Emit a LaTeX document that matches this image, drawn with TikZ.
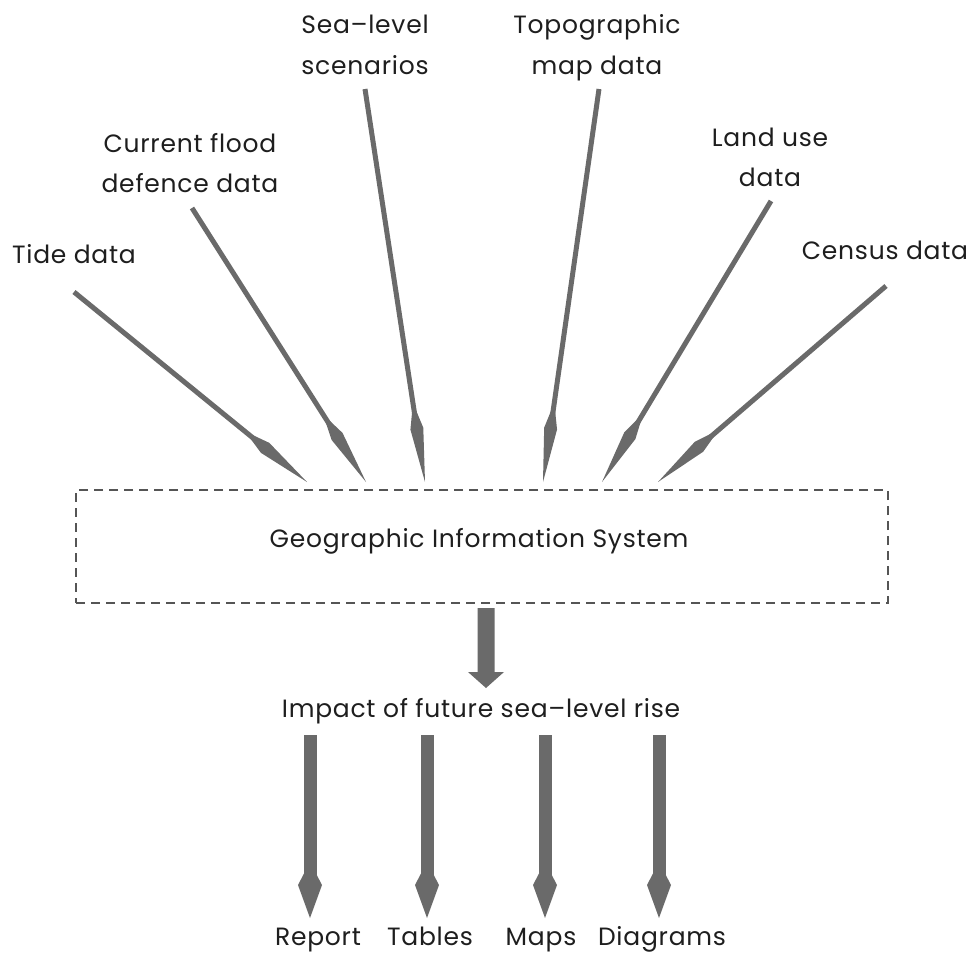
\documentclass[tikz,border=0pt]{standalone}
\usepackage{fontspec}
\setmainfont{Poppins}[LetterSpace=3]
\usetikzlibrary{calc}
\definecolor{spokegray}{HTML}{6A6A6A}
\definecolor{inkgray}{HTML}{1E1E1E}
\definecolor{boxgray}{HTML}{555555}
\newcommand\drawspoke[2]{%
  \draw[spoke] (#1) -- ($(#2)!53pt!(#1)$);
  \fill[spokegray] ($(#2)!80pt!(#1)$) -- ($($(#2)!54pt!(#1)$)!6.5pt!90:(#2)$) -- (#2)
     -- ($($(#2)!54pt!(#1)$)!6.5pt!-90:(#2)$) -- cycle;}
\newcommand\drawdown[2]{%
  \draw[shaft] (#1) -- ($(#2)+(0,-30)$);
  \fill[spokegray] ($(#2)+(0,-56)$) -- ($(#2)+(-12,-33)$) -- (#2) -- ($(#2)+(12,-33)$) -- cycle;}
\begin{document}
\begin{tikzpicture}[x=1pt,y=-1pt,
  lbl/.style={font=\fontsize{25}{40}\selectfont, text=inkgray, align=center, inner sep=0pt, anchor=base},
  spoke/.style={draw=spokegray, line width=5pt},
  shaft/.style={draw=spokegray, line width=13pt},
  gisbox/.style={draw=boxgray, line width=2pt, dash pattern=on 9pt off 6pt},
  bigarrow/.style={fill=spokegray}]
\useasboundingbox (0,0) rectangle (970,953);
% labels (anchor = baseline of last line)
\node[lbl] (sea) at (365,74) {Sea--level\\scenarios};
\node[lbl] (topo) at (597,74) {Topographic\\map data};
\node[lbl] (flood) at (190,192) {Current flood\\defence data};
\node[lbl] (land) at (770,186) {Land use\\data};
\node[lbl] (tide) at (74,263) {Tide data};
\node[lbl] (census) at (885,259) {Census data};
% GIS box
\node[gisbox, minimum width=812pt, minimum height=113pt, anchor=north west] (gis) at (75,489) {};
\node[lbl] (gistext) at (479,547) {Geographic Information System};
% spoke ends
\coordinate (s1) at (74,292);  \coordinate (e1) at (307,482);
\coordinate (s2) at (192,208); \coordinate (e2) at (366,482);
\coordinate (s3) at (365,89);  \coordinate (e3) at (425,482);
\coordinate (s4) at (599,89);  \coordinate (e4) at (543,482);
\coordinate (s5) at (771,201); \coordinate (e5) at (602,482);
\coordinate (s6) at (886,286); \coordinate (e6) at (658,482);
\drawspoke{s1}{e1}
\drawspoke{s2}{e2}
\drawspoke{s3}{e3}
\drawspoke{s4}{e4}
\drawspoke{s5}{e5}
\drawspoke{s6}{e6}
% big arrow
\coordinate (b1) at (486,608);
\coordinate (b2) at (486,688);
\fill[bigarrow] ($(b1)+(-8.5,0)$) -- ($(b2)+(-8.5,-16)$) -- ($(b2)+(-18,-16)$) -- (b2)
  -- ($(b2)+(18,-16)$) -- ($(b2)+(8.5,-16)$) -- ($(b1)+(8.5,0)$) -- cycle;
\node[lbl] (impact) at (481,717) {Impact of future sea--level rise};
% outputs
\coordinate (o1) at (310,735); \coordinate (t1) at (310,918);
\coordinate (o2) at (427,735); \coordinate (t2) at (427,918);
\coordinate (o3) at (545,735); \coordinate (t3) at (545,918);
\coordinate (o4) at (659,735); \coordinate (t4) at (659,918);
\drawdown{o1}{t1}
\drawdown{o2}{t2}
\drawdown{o3}{t3}
\drawdown{o4}{t4}
\node[lbl] (report) at (318,945) {Report};
\node[lbl] (tables) at (430,945) {Tables};
\node[lbl] (maps) at (541,945) {Maps};
\node[lbl] (diagrams) at (662,945) {Diagrams};
\end{tikzpicture}
\end{document}
